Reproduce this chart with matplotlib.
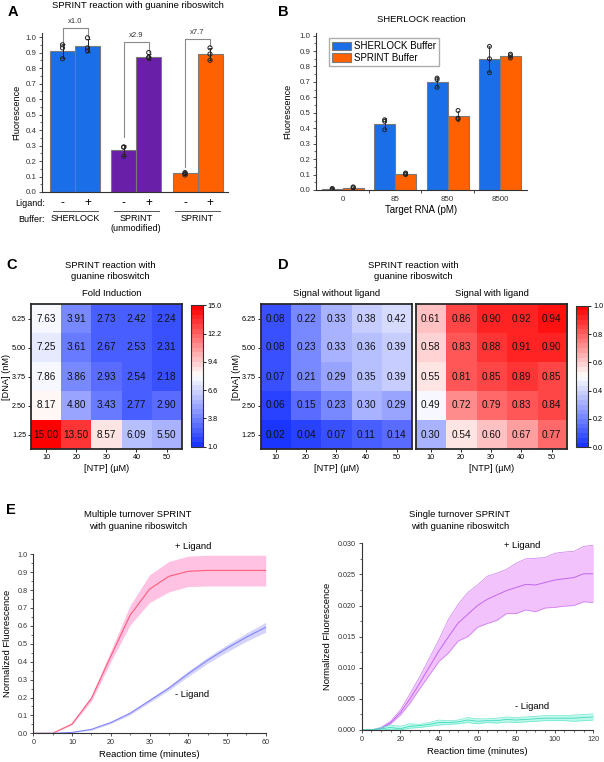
#!/usr/bin/env python3
# SPRINT / SHERLOCK figure, panels A-E
import numpy as np
import matplotlib
matplotlib.use('Agg')
import matplotlib.pyplot as plt
from matplotlib.colors import LinearSegmentedColormap
from matplotlib.ticker import MultipleLocator, FormatStrFormatter

plt.rcParams['font.family'] = ['Liberation Sans', 'DejaVu Sans']

# ---- data ----
# A: bars + replicate dots
a_ligand = ['-', '+', '-', '+', '-', '+']
a_buffers = ['SHERLOCK', 'SPRINT\n(unmodified)', 'SPRINT']
a_heights = [0.91, 0.945, 0.27, 0.87, 0.12, 0.89]
a_dots = [[0.95, 0.93, 0.86], [0.995, 0.93, 0.91],
          [0.29, 0.29, 0.23], [0.90, 0.87, 0.865],
          [0.12, 0.11, 0.125], [0.93, 0.89, 0.85]]
a_fold = ['x1.0', 'x2.9', 'x7.7']

# B
b_targets = ['0', '85', '850', '8500']
b_sherlock = [0.005, 0.43, 0.70, 0.85]
b_sprint = [0.015, 0.105, 0.48, 0.865]
b_sherlock_dots = [[0.01, 0.005, 0.0], [0.455, 0.445, 0.39],
                   [0.725, 0.715, 0.665], [0.93, 0.85, 0.76]]
b_sprint_dots = [[0.02, 0.015, 0.015], [0.11, 0.105, 0.10],
                 [0.515, 0.465, 0.46], [0.88, 0.87, 0.855]]

# C / D heatmaps (rows: DNA 6.25 -> 1.25, cols: NTP 10 -> 50)
ntp = [10, 20, 30, 40, 50]
dna = [6.25, 5.00, 3.75, 2.50, 1.25]
fold_ind = [[7.63, 3.91, 2.73, 2.42, 2.24],
            [7.25, 3.61, 2.67, 2.53, 2.31],
            [7.86, 3.86, 2.93, 2.54, 2.18],
            [8.17, 4.80, 3.43, 2.77, 2.90],
            [15.00, 13.50, 8.57, 6.09, 5.50]]
sig_without = [[0.08, 0.22, 0.33, 0.38, 0.42],
               [0.08, 0.23, 0.33, 0.36, 0.39],
               [0.07, 0.21, 0.29, 0.35, 0.39],
               [0.06, 0.15, 0.23, 0.30, 0.29],
               [0.02, 0.04, 0.07, 0.11, 0.14]]
sig_with = [[0.61, 0.86, 0.90, 0.92, 0.94],
            [0.58, 0.83, 0.88, 0.91, 0.90],
            [0.55, 0.81, 0.85, 0.89, 0.85],
            [0.49, 0.72, 0.79, 0.83, 0.84],
            [0.30, 0.54, 0.60, 0.67, 0.77]]

# E left: multiple turnover
t_multi = [0, 5, 10, 15, 20, 25, 30, 35, 40, 45, 50, 55, 60]
multi_plus = [0, 0, 0.052, 0.195, 0.43, 0.66, 0.805, 0.877, 0.905, 0.91, 0.91, 0.91, 0.91]
multi_plus_hi = [0, 0, 0.057, 0.21, 0.46, 0.715, 0.885, 0.96, 0.99, 0.995, 0.995, 0.995, 0.995]
multi_plus_lo = [0, 0, 0.047, 0.18, 0.40, 0.605, 0.73, 0.79, 0.82, 0.823, 0.823, 0.823, 0.823]
multi_minus = [0, 0, 0.005, 0.022, 0.06, 0.112, 0.182, 0.252, 0.333, 0.408, 0.475, 0.537, 0.592]
multi_minus_hi = [0, 0, 0.007, 0.026, 0.066, 0.12, 0.192, 0.265, 0.348, 0.425, 0.495, 0.56, 0.62]
multi_minus_lo = [0, 0, 0.003, 0.018, 0.054, 0.104, 0.172, 0.24, 0.318, 0.391, 0.455, 0.514, 0.565]

# E right: single turnover
t_single = [0, 5, 10, 15, 20, 25, 30, 35, 40, 45, 50, 55, 60, 65, 70, 75, 80,
            85, 90, 95, 100, 105, 110, 115, 120]
single_plus = [0, 0, 0.0003, 0.0012, 0.0028, 0.005, 0.0075, 0.0101, 0.0127, 0.015,
               0.0172, 0.0186, 0.020, 0.021, 0.0217, 0.0224, 0.0229, 0.0234, 0.0233,
               0.0237, 0.0241, 0.0243, 0.0245, 0.0251, 0.0251]
single_plus_hi = [0, 0, 0.0004, 0.0014, 0.0032, 0.0058, 0.0085, 0.0115, 0.0145, 0.0178,
                  0.0202, 0.0221, 0.0233, 0.0247, 0.0252, 0.0258, 0.0268, 0.0275, 0.0276,
                  0.0277, 0.0284, 0.0286, 0.0287, 0.0295, 0.0297]
single_plus_lo = [0, 0, 0.0002, 0.001, 0.0024, 0.0043, 0.0066, 0.0088, 0.011, 0.0124,
                  0.0143, 0.015, 0.0165, 0.0171, 0.0176, 0.0187, 0.0187, 0.0193, 0.019,
                  0.0196, 0.0197, 0.0199, 0.0200, 0.0206, 0.0205]
single_minus = [0, 0, 0.0002, 0.0004, 0.0002, 0.0006, 0.0007, 0.0009, 0.0012, 0.0012,
                0.0013, 0.0016, 0.0014, 0.0015, 0.0015, 0.0017, 0.0016, 0.0017, 0.0018,
                0.0019, 0.0019, 0.0019, 0.0019, 0.0020, 0.0021]
single_minus_hi = [0, 0, 0.0004, 0.0008, 0.0006, 0.001, 0.0009, 0.0012, 0.0016, 0.0015,
                   0.0016, 0.002, 0.0018, 0.0018, 0.0019, 0.0021, 0.002, 0.0021, 0.0022,
                   0.0023, 0.0023, 0.0023, 0.0024, 0.0025, 0.0026]
single_minus_lo = [0, 0, 0.0, 0.0001, 0.0, 0.0003, 0.0004, 0.0006, 0.0008, 0.0009,
                   0.001, 0.0012, 0.001, 0.0012, 0.0011, 0.0013, 0.0012, 0.0013, 0.0014,
                   0.0015, 0.0015, 0.0015, 0.0014, 0.0015, 0.0016]

# ---- layout helpers (pixel coords of the 604x762 canvas) ----
W, H = 604, 762
fig = plt.figure(figsize=(W/100, H/100), dpi=100)

def box(l, t, r, b):
    return [l/W, 1-b/H, (r-l)/W, (b-t)/H]

def ftext(x, y, s, **kw):
    kw.setdefault('ha', 'center')
    kw.setdefault('va', 'center')
    fig.text(x/W, 1-y/H, s, **kw)

def style(ax, fs=5.5):
    for s in ['top', 'right']:
        ax.spines[s].set_visible(False)
    for s in ['left', 'bottom']:
        ax.spines[s].set_linewidth(0.8)
        ax.spines[s].set_color('#333333')
    ax.tick_params(which='major', length=2.5, width=0.6, labelsize=fs, pad=1.5, colors='#333333')
    ax.tick_params(which='minor', length=1.5, width=0.5, colors='#333333')

blue = '#1a6ee8'
purple = '#6a1fa8'
orange = '#ff6000'
edge = '#7a7a7a'
TFS = 6.8  # titles / labels

# ---- panel A ----
ax = fig.add_axes(box(42, 33, 228, 192))
xa = [0, 1, 2.45, 3.45, 4.9, 5.9]
cols_a = [blue, blue, purple, purple, orange, orange]
ax.bar(xa, a_heights, width=1.0, color=cols_a, edgecolor=edge, linewidth=0.8)
for x, d, h in zip(xa, a_dots, a_heights):
    ax.errorbar(x, h, yerr=np.std(d, ddof=1), color='#222222', lw=0.7, capsize=1.2, capthick=0.6)
    ax.scatter([x]*len(d), d, s=9, facecolors='none', edgecolors='#222222', linewidths=0.7, zorder=3)
ax.set_xlim(-0.82, 6.62)
ax.set_ylim(0, 1.026)
ax.set_xticks([])
ax.yaxis.set_major_locator(MultipleLocator(0.1))
ax.yaxis.set_minor_locator(MultipleLocator(0.05))
ax.yaxis.set_major_formatter(FormatStrFormatter('%.1f'))
style(ax, fs=5.7)
ax.set_ylabel('Fluorescence', fontsize=6.6, labelpad=3)
# fold-change brackets
brackets = [(0, 1, 1.056, 0.96, 1.0), (2.45, 3.45, 0.966, 0.355, 0.905), (4.9, 5.9, 0.987, 0.16, 0.94)]
for (x0, x1, top, l0, l1), lab in zip(brackets, a_fold):
    ax.plot([x0, x0, x1, x1], [l0, top, top, l1], color='#8a8a8a', lw=0.8, clip_on=False)
    ax.text((x0+x1)/2, top+0.022, lab, ha='center', va='bottom', fontsize=5.5, color='#333333')
tr = ax.get_xaxis_transform()
for x, s in zip(xa, a_ligand):
    ax.text(x, -0.068, s, transform=tr, ha='center', va='center', fontsize=8.5)
for i, b in enumerate(a_buffers):
    xc = (xa[2*i] + xa[2*i+1]) / 2
    ax.plot([xc-0.9, xc+0.9], [-0.118, -0.118], transform=tr, color='#555555', lw=0.7, clip_on=False)
    ax.text(xc, -0.14, b, transform=tr, ha='center', va='top', fontsize=6.5, linespacing=1.15)
ftext(45, 203.3, 'Ligand:', ha='right', fontsize=6.5)
ftext(45, 219.5, 'Buffer:', ha='right', fontsize=6.5)
ftext(138, 6, 'SPRINT reaction with guanine riboswitch', fontsize=TFS)
ftext(13, 12, 'A', fontsize=10.5, fontweight='bold')

# ---- panel B ----
ax = fig.add_axes(box(316, 33, 526.7, 190))
xb = np.arange(len(b_targets))
w = 0.4
ax.bar(xb - w/2, b_sherlock, width=w, color=blue, edgecolor=edge, linewidth=0.8, label='SHERLOCK Buffer')
ax.bar(xb + w/2, b_sprint, width=w, color=orange, edgecolor=edge, linewidth=0.8, label='SPRINT Buffer')
for xs, hs, ds in [(xb - w/2, b_sherlock, b_sherlock_dots), (xb + w/2, b_sprint, b_sprint_dots)]:
    for x, h, d in zip(xs, hs, ds):
        ax.errorbar(x, h, yerr=np.std(d, ddof=1), color='#222222', lw=0.6, capsize=1.0, capthick=0.5)
        ax.scatter([x]*len(d), d, s=8, facecolors='none', edgecolors='#222222', linewidths=0.7, zorder=3)
ax.set_xlim(-0.51, 3.51)
ax.set_ylim(0, 1.017)
ax.set_xticks(xb)
ax.set_xticklabels(b_targets)
ax.set_xticks([0.5, 1.5, 2.5], minor=True)
ax.yaxis.set_major_locator(MultipleLocator(0.1))
ax.yaxis.set_minor_locator(MultipleLocator(0.05))
ax.yaxis.set_major_formatter(FormatStrFormatter('%.1f'))
style(ax, fs=5.7)
ax.tick_params(axis='x', which='major', length=0, pad=4)
ax.tick_params(axis='x', which='minor', length=2.5, width=0.6)
ax.set_xlabel('Target RNA (pM)', fontsize=7, labelpad=2)
ax.set_ylabel('Fluorescence', fontsize=6.6, labelpad=5)
ax.legend(loc='upper left', bbox_to_anchor=(0.06, 0.965), fontsize=7, frameon=True, fancybox=False,
          edgecolor='#999999', handlelength=2.0, handleheight=1.0, borderpad=0.3,
          labelspacing=0.15, handletextpad=0.3, borderaxespad=0)
ftext(421.7, 19.5, 'SHERLOCK reaction', fontsize=TFS)
ftext(283, 12, 'B', fontsize=10.5, fontweight='bold')

# ---- panels C / D heatmaps ----
cmap = LinearSegmentedColormap.from_list('bw_r', ['#1a35ff', '#ffffff', '#ff0000'], N=30)

def heat(rect, data, vmin, vmax, fmt, ylab=True):
    ax = fig.add_axes(box(*rect))
    im = ax.imshow(np.array(data), cmap=cmap, vmin=vmin, vmax=vmax, aspect='auto',
                   extent=(5, 55, 0.625, 6.875), interpolation='nearest')
    for i, yv in enumerate(dna):
        for j, xv in enumerate(ntp):
            ax.text(xv, yv, fmt % data[i][j], ha='center', va='center', fontsize=7.2, color='#111111')
    ax.set_xticks(ntp)
    ax.set_yticks(dna)
    ax.set_yticklabels(['%.2f' % d for d in dna])
    for s in ax.spines.values():
        s.set_linewidth(1.3)
        s.set_color('#2a2a2a')
    ax.tick_params(length=2, width=0.6, labelsize=5.2, pad=1.5)
    ax.set_xlabel('[NTP] (µM)', fontsize=6.6, labelpad=2)
    if ylab:
        ax.set_ylabel('[DNA] (nM)', fontsize=6.6, labelpad=0.5)
    else:
        ax.tick_params(axis='y', left=False, labelleft=False)
    return ax, im

def cbar(rect, im, ticks):
    cax = fig.add_axes(box(*rect))
    cb = fig.colorbar(im, cax=cax, ticks=ticks)
    cb.outline.set_linewidth(0.8)
    cb.outline.set_edgecolor('#333333')
    cax.yaxis.set_major_formatter(FormatStrFormatter('%.1f'))
    cax.tick_params(length=2, width=0.6, labelsize=5.2, pad=1.5)

ax, im = heat((31, 304, 181.7, 449), fold_ind, 1, 15, '%.2f')
cbar((190.7, 305.3, 202.7, 446.7), im, np.linspace(1, 15, 6))
ftext(110, 271, 'SPRINT reaction with\nguanine riboswitch', fontsize=TFS, linespacing=1.3)
ftext(112, 293.3, 'Fold Induction', fontsize=TFS)
ftext(12, 265, 'C', fontsize=10.5, fontweight='bold')

ax, im = heat((260.7, 304, 411.7, 449), sig_without, 0, 1, '%.2f')
ax, im = heat((415.7, 304, 566.7, 449), sig_with, 0, 1, '%.2f', ylab=False)
cbar((576, 305.7, 588.3, 447.3), im, np.linspace(0, 1, 6))
ftext(413.3, 271, 'SPRINT reaction with\nguanine riboswitch', fontsize=TFS, linespacing=1.3)
ftext(336.7, 293.3, 'Signal without ligand', fontsize=TFS)
ftext(491.7, 293.3, 'Signal with ligand', fontsize=TFS)
ftext(283, 265, 'D', fontsize=10.5, fontweight='bold')

# ---- panel E left ----
ax = fig.add_axes(box(33.3, 554.3, 265.7, 733.3))
ax.fill_between(t_multi, multi_plus_lo, multi_plus_hi, color='#ffb3dc', alpha=0.8, lw=0)
ax.plot(t_multi, multi_plus, color='#ff5c78', lw=0.8)
ax.fill_between(t_multi, multi_minus_lo, multi_minus_hi, color='#c9c9fb', alpha=0.8, lw=0)
ax.plot(t_multi, multi_minus, color='#8484ff', lw=0.8)
ax.set_xlim(0, 60)
ax.set_ylim(0, 1.0)
ax.xaxis.set_major_locator(MultipleLocator(10))
ax.xaxis.set_minor_locator(MultipleLocator(5))
ax.yaxis.set_major_locator(MultipleLocator(0.1))
ax.yaxis.set_minor_locator(MultipleLocator(0.05))
ax.yaxis.set_major_formatter(FormatStrFormatter('%.1f'))
style(ax, fs=5.2)
ax.set_xlabel('Reaction time (minutes)', fontsize=TFS, labelpad=3)
ax.set_ylabel('Normalized Fluorescence', fontsize=TFS, labelpad=4)
ax.text(41.3, 1.042, '+ Ligand', ha='center', va='center', fontsize=TFS)
ax.text(40.9, 0.218, '- Ligand', ha='center', va='center', fontsize=TFS)
ftext(137.7, 520.5, 'Multiple turnover SPRINT\nwith guanine riboswitch', fontsize=TFS, linespacing=1.3)
ftext(11, 510, 'E', fontsize=10.5, fontweight='bold')

# ---- panel E right ----
ax = fig.add_axes(box(361.7, 543.3, 593.3, 730))
ax.fill_between(t_single, single_plus_lo, single_plus_hi, color='#f0bcfb', alpha=0.9, lw=0)
ax.plot(t_single, single_plus_hi, color='#cc77f2', lw=0.5)
ax.plot(t_single, single_plus_lo, color='#cc77f2', lw=0.5)
ax.plot(t_single, single_plus, color='#c068ee', lw=0.7)
ax.fill_between(t_single, single_minus_lo, single_minus_hi, color='#b8f7e8', alpha=0.9, lw=0)
ax.plot(t_single, single_minus_hi, color='#66e8cc', lw=0.5)
ax.plot(t_single, single_minus_lo, color='#66e8cc', lw=0.5)
ax.plot(t_single, single_minus, color='#3fdcbf', lw=0.6)
ax.set_xlim(0, 120)
ax.set_ylim(0, 0.030)
ax.xaxis.set_major_locator(MultipleLocator(20))
ax.xaxis.set_minor_locator(MultipleLocator(5))
ax.yaxis.set_major_locator(MultipleLocator(0.005))
ax.yaxis.set_minor_locator(MultipleLocator(0.0025))
ax.yaxis.set_major_formatter(FormatStrFormatter('%.3f'))
style(ax, fs=5.2)
ax.set_xlabel('Reaction time (minutes)', fontsize=TFS, labelpad=3)
ax.set_ylabel('Normalized Fluorescence', fontsize=TFS, labelpad=4)
ax.text(82.9, 0.0297, '+ Ligand', ha='center', va='center', fontsize=TFS)
ax.text(88.1, 0.0037, '- Ligand', ha='center', va='center', fontsize=TFS)
ftext(460, 520.5, 'Single turnover SPRINT\nwith guanine riboswitch', fontsize=TFS, linespacing=1.3)

fig.savefig('out.png', dpi=100)
